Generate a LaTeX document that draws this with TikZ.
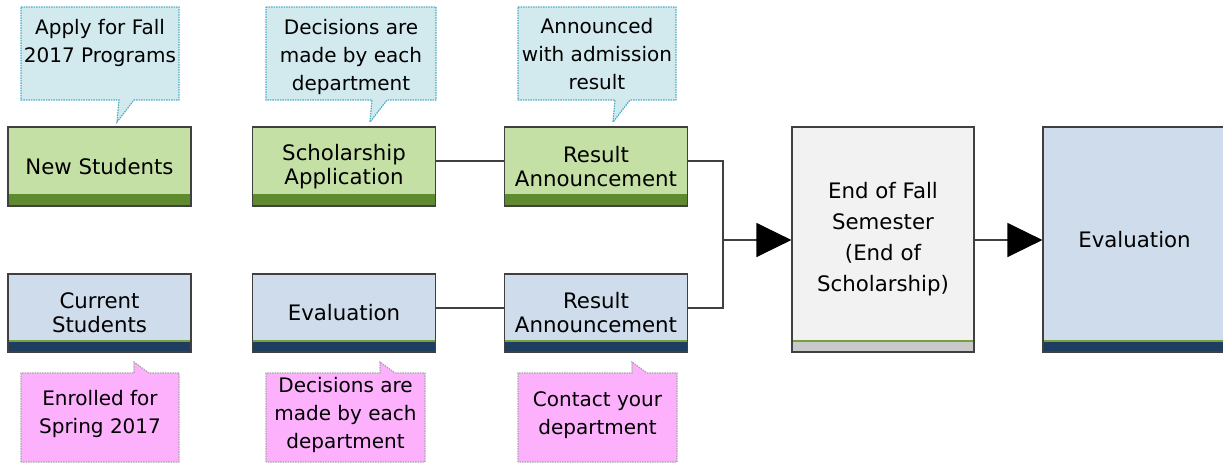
\documentclass[tikz,border=0pt]{standalone}
\usepackage{fontspec}
\setmainfont{DejaVu Sans}
\usetikzlibrary{arrows.meta}

\definecolor{stepgreen}{HTML}{C5E0A5}
\definecolor{bargreen}{HTML}{5F8B2F}
\definecolor{stepblue}{HTML}{CFDCEB}
\definecolor{barnavy}{HTML}{1F3D5F}
\definecolor{stepgray}{HTML}{F2F2F2}
\definecolor{bargray}{HTML}{C9C9C9}
\definecolor{edgegreen}{HTML}{77A03C}
\definecolor{boxline}{HTML}{404040}
\definecolor{notecyan}{HTML}{D2EAEE}
\definecolor{noteteal}{HTML}{4BACC6}
\definecolor{notepink}{HTML}{FDB1FD}
\definecolor{notegray}{HTML}{A6A6A6}

\newcommand{\drawnoteabove}[4]
{
  \filldraw[#4] (#1,7) -- (#2,7) -- (#2,100) -- (#3,100) -- ++(-17,22) -- ++(2,-22) -- (#1,100) -- cycle;
}
\newcommand{\drawnotebelow}[4]
{
  \filldraw[#4] (#1,462) -- (#1,373) -- (#3,373) -- ++(0,-11) -- ++(15,11) -- (#2,373) -- (#2,462) -- cycle;
}

\begin{document}
\begin{tikzpicture}[x=1pt, y=-1pt,
    stepbox/.style={draw=boxline, line width=1.2pt, minimum width=183pt, minimum height=79pt,
      inner sep=0pt, align=center, font=\fontsize{21.3}{24}\selectfont},
    barred/.style 2 args={path picture={
      \fill[#1] (path picture bounding box.south west) rectangle ([yshift=11pt]path picture bounding box.south east);
      \draw[#2, line width=1.2pt] ([yshift=11pt]path picture bounding box.south west) -- ([yshift=11pt]path picture bounding box.south east);}},
    greenbox/.style={stepbox, fill=stepgreen, barred={bargreen}{bargreen}},
    bluebox/.style={stepbox, fill=stepblue, minimum height=78pt, barred={barnavy}{edgegreen}},
    graybox/.style={stepbox, fill=stepgray, barred={bargray}{edgegreen}},
    upnote/.style={fill=notecyan, draw=noteteal, line width=1.2pt, dash pattern=on 1.5pt off 1pt},
    downnote/.style={fill=notepink, draw=notegray, line width=1.2pt, dash pattern=on 1.5pt off 1pt},
    notetext/.style={inner sep=0pt, align=center, font=\fontsize{20}{28}\selectfont},
    link/.style={draw=boxline, line width=1.3pt},
    flow/.style={link, -{Triangle[length=35pt, width=34pt, color=black]}}]
  \useasboundingbox (0,0) rectangle (1223,463);
  \clip (0,0) rectangle (1223,463);

  % callouts above and below the steps
  \drawnoteabove{21}{179}{134}{upnote}
  \drawnoteabove{266}{436}{387}{upnote}
  \drawnoteabove{518}{676}{630}{upnote}
  \drawnotebelow{21}{179}{134}{downnote}
  \drawnotebelow{266}{425}{380}{downnote}
  \drawnotebelow{518}{677}{632}{downnote}

  \node[notetext] (applynote) at (100,42.5) {Apply for Fall\\2017 Programs};
  \node[notetext] (decidenote) at (351,56.5) {Decisions are\\made by each\\department};
  \node[notetext] (announcenote) at (597,54.4) {Announced\\with admission\\result};
  \node[notetext] (enrollnote) at (100,413.5) {Enrolled for\\Spring 2017};
  \node[notetext] (evalnote) at (345.5,414.5) {Decisions are\\made by each\\department};
  \node[notetext] (contactnote) at (597.5,415.5) {Contact your\\department};

  % steps
  \node[greenbox] (newstud) at (99.5,166.5) {New Students};
  \node[greenbox] (scholapp) at (344,166.5) {Scholarship\\Application};
  \node[greenbox] (topresult) at (596,166.5) {Result\\Announcement};
  \node[bluebox] (curstud) at (99.5,313) {Current\\Students};
  \node[bluebox] (evalstep) at (344,313) {Evaluation};
  \node[bluebox] (botresult) at (596,313) {Result\\Announcement};
  \node[graybox, minimum width=182pt, minimum height=225pt, font=\fontsize{21.3}{31}\selectfont]
    (endsem) at (883,239.5) {End of Fall\\Semester\\(End of\\Scholarship)};
  \node[bluebox, minimum height=225pt] (evalfinal) at (1134.5,239.5) {Evaluation};

  % connectors
  \coordinate (merge) at (723,240);
  \draw[link] ([yshift=5.5pt]scholapp.east) -- ([yshift=5.5pt]topresult.west);
  \draw[link] ([yshift=5pt]evalstep.east) -- ([yshift=5pt]botresult.west);
  \draw[link] ([yshift=5.5pt]topresult.east) -| (merge);
  \draw[link] ([yshift=5pt]botresult.east) -| (merge);
  \draw[flow] (merge) -- (merge -| endsem.west);
  \draw[flow] (merge -| endsem.east) -- (merge -| evalfinal.west);
\end{tikzpicture}
\end{document}
